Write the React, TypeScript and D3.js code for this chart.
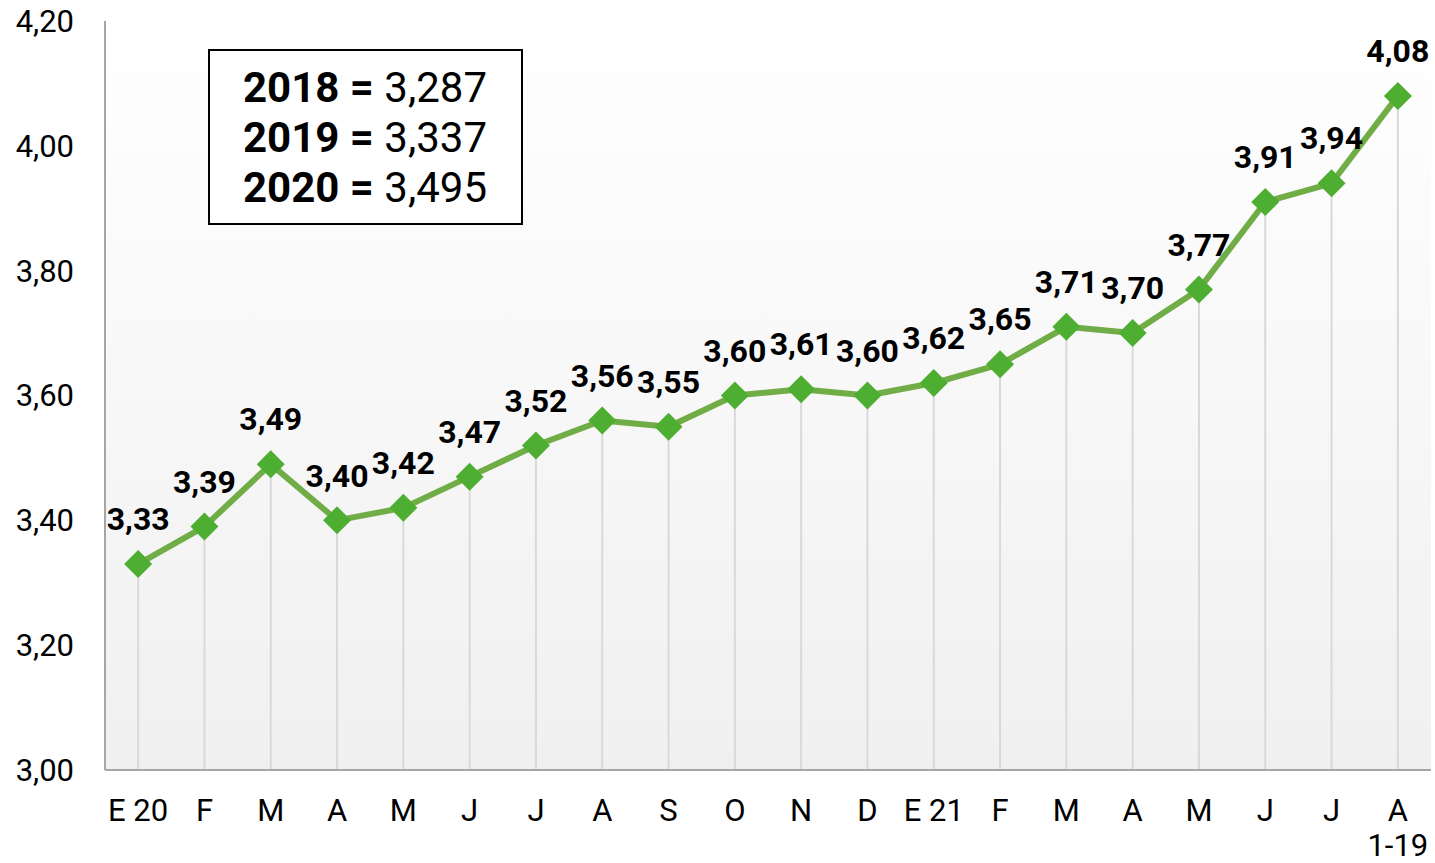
import React from 'react';
import * as d3 from 'd3';

const months = ['E 20', 'F', 'M', 'A', 'M', 'J', 'J', 'A', 'S', 'O', 'N', 'D', 'E 21', 'F', 'M', 'A', 'M', 'J', 'J', 'A'];
const values = [3.33, 3.39, 3.49, 3.40, 3.42, 3.47, 3.52, 3.56, 3.55, 3.60, 3.61, 3.60, 3.62, 3.65, 3.71, 3.70, 3.77, 3.91, 3.94, 4.08];
const yTicks = [3.0, 3.2, 3.4, 3.6, 3.8, 4.0, 4.2];
const legendRows = [
  { year: '2018', value: '3,287' },
  { year: '2019', value: '3,337' },
  { year: '2020', value: '3,495' },
];
const lastSubLabel = '1-19';

const W = 1435;
const H = 863;
const margin = { top: 21, right: 4, bottom: 93, left: 105 };

const fmt = (v: number, d: number) => v.toFixed(d).replace('.', ',');

export default function App() {
  const x = d3.scaleBand<number>()
    .domain(months.map((_, i) => i))
    .range([margin.left, W - margin.right]);
  const y = d3.scaleLinear()
    .domain([3.0, 4.2])
    .range([H - margin.bottom, margin.top]);

  const cx = (i: number) => (x(i) ?? 0) + x.bandwidth() / 2;
  const line = d3.line<number>()
    .x((_, i) => cx(i))
    .y(d => y(d));

  const bottom = y(3.0);
  const font = 'Roboto, sans-serif';
  const diamond = 14;

  return (
    <svg width={W} height={H} style={{ position: 'absolute', left: 0, top: 0 }} fontFamily={font}>
      <defs>
        <linearGradient id="bg" x1="0" y1="0" x2="0" y2="1">
          <stop offset="0" stopColor="#ffffff" />
          <stop offset="1" stopColor="#f0f0f0" />
        </linearGradient>
      </defs>
      <rect x={margin.left} y={y(4.2)} width={W - margin.right - margin.left} height={bottom - y(4.2)} fill="url(#bg)" />

      {/* drop lines */}
      {values.map((v, i) => (
        <line key={'d' + i} x1={cx(i)} x2={cx(i)} y1={y(v)} y2={bottom} stroke="#d9d9d9" strokeWidth={2} />
      ))}

      {/* axes */}
      <line x1={margin.left} x2={margin.left} y1={y(4.2)} y2={bottom} stroke="#a6a6a6" strokeWidth={2} />
      <line x1={margin.left} x2={W - margin.right} y1={bottom} y2={bottom} stroke="#a6a6a6" strokeWidth={2} />

      {yTicks.map(t => (
        <text key={t} x={74} y={y(t)} dy="0.35em" textAnchor="end" fontSize={31} fill="#000">{fmt(t, 2)}</text>
      ))}
      {months.map((m, i) => (
        <text key={'m' + i} x={cx(i)} y={810} dy="0.35em" textAnchor="middle" fontSize={31} fill="#000">{m}</text>
      ))}
      <text x={cx(months.length - 1)} y={845} dy="0.35em" textAnchor="middle" fontSize={31} fill="#000">{lastSubLabel}</text>

      {/* series */}
      <path d={line(values) ?? ''} fill="none" stroke="#70ad47" strokeWidth={6} strokeLinejoin="round" />
      {values.map((v, i) => (
        <path key={'p' + i}
          d={`M${cx(i)},${y(v) - diamond}L${cx(i) + diamond},${y(v)}L${cx(i)},${y(v) + diamond}L${cx(i) - diamond},${y(v)}Z`}
          fill="#4eae32" />
      ))}
      {values.map((v, i) => (
        <text key={'l' + i} x={cx(i)} y={y(v) - 45} dy="0.35em" textAnchor="middle" fontSize={32} fontWeight="bold" fill="#000">{fmt(v, 2)}</text>
      ))}

      {/* legend box */}
      <rect x={209} y={50} width={313} height={174} fill="#fff" stroke="#000" strokeWidth={2} />
      {legendRows.map((r, i) => (
        <text key={r.year} x={365} y={87 + i * 50} dy="0.35em" textAnchor="middle" fontSize={42} fill="#000">
          <tspan fontWeight="bold">{r.year} =</tspan> {r.value}
        </text>
      ))}
    </svg>
  );
}
